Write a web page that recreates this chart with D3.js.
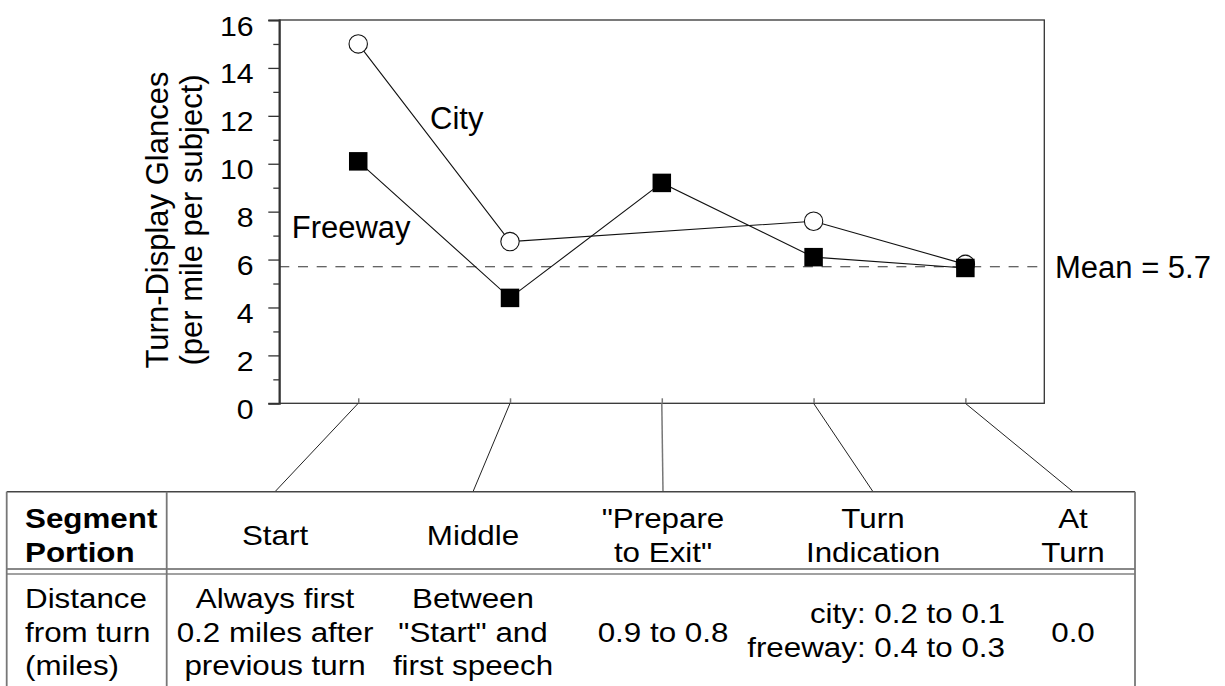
<!DOCTYPE html>
<html>
<head>
<meta charset="utf-8">
<script src="https://cdn.jsdelivr.net/npm/d3@7"></script>
<style>
html,body{margin:0;padding:0;background:#fff;}
svg{display:block;}
text{font-family:"Liberation Sans",Arial,Helvetica,sans-serif;fill:#000;}
</style>
</head>
<body>
<svg id="chart" width="1225" height="686"></svg>
<script>
// ---- data ----
const categories = ["Start", "Middle", "Prepare to Exit", "Turn Indication", "At Turn"];
const cityValues = [15.0, 6.75, null, 7.6, 5.8];
const freewayValues = [10.1, 4.4, 9.2, 6.1, 5.65];
const meanValue = 5.7;
const yTicks = [0, 2, 4, 6, 8, 10, 12, 14, 16];
const yMinorTicks = [1, 3, 5, 7, 9, 11, 13, 15];
const yLabelLines = ["Turn-Display Glances", "(per mile per subject)"];
const rowHeaderLabel = ["Segment", "Portion"];
const rowBodyLabel = ["Distance", "from turn", "(miles)"];
const headerCells = [["Start"], ["Middle"], ["\"Prepare", "to Exit\""], ["Turn", "Indication"], ["At", "Turn"]];
const bodyCells = [
  ["Always first", "0.2 miles after", "previous turn"],
  ["Between", "\"Start\" and", "first speech"],
  ["0.9 to 0.8"],
  ["city: 0.2 to 0.1", "freeway: 0.4 to 0.3"],
  ["0.0"]
];

// ---- layout ----
const plot = {left: 279.3, right: 1044.3, top: 20, bottom: 403.3};
const table = {left: 6.7, sep: 166.7, right: 1135, top: 491.7, dbl1: 569, dbl2: 574, bottom: 686};
const tableColCenters = [275, 473, 663, 873, 1073];
const bodyAnchors = ["middle", "middle", "middle", "end", "middle"];
const bodyAnchorX = [275, 473, 663, 1005, 1073];

const svg = d3.select("#chart");

const x = d3.scalePoint().domain(categories).range([plot.left, plot.right]).padding(0.52);
const y = d3.scaleLinear().domain([0, 16]).range([plot.bottom, plot.top]);

function stext(parent, px, py, str, o) {
  o = o || {};
  return parent.append("text")
    .attr("transform", `translate(${px},${py}) scale(${o.sx || 1},1)`)
    .attr("text-anchor", o.anchor || "start")
    .style("font-size", (o.size || 28) + "px")
    .style("font-weight", o.weight || "normal")
    .text(str);
}

// frame
svg.append("rect")
  .attr("x", plot.left).attr("y", plot.top)
  .attr("width", plot.right - plot.left).attr("height", plot.bottom - plot.top)
  .attr("fill", "none").attr("stroke", "#333").attr("stroke-width", 1.3);

// y axis major
const yAxis = svg.append("g").attr("transform", `translate(${plot.left},0)`)
  .call(d3.axisLeft(y).tickValues(yTicks).tickSize(11).tickPadding(12.9).tickFormat(d3.format("d")));
yAxis.select(".domain").attr("stroke", "#333").attr("stroke-width", 2);
yAxis.selectAll(".tick line").attr("stroke", "#333").attr("stroke-width", 1.3);
yAxis.selectAll(".tick text")
  .attr("dy", "15px")
  .attr("transform", "scale(1.08,1)")
  .style("font-size", "28px")
  .style("font-family", "\"Liberation Sans\",Arial,sans-serif")
  .attr("fill", "#000");

// y axis minor
const yMinor = svg.append("g").attr("transform", `translate(${plot.left},0)`)
  .call(d3.axisLeft(y).tickValues(yMinorTicks).tickSize(6).tickFormat(""));
yMinor.select(".domain").remove();
yMinor.selectAll(".tick line").attr("stroke", "#333").attr("stroke-width", 1.3);

// bottom category ticks (inward)
const xAxis = svg.append("g").attr("transform", `translate(0,${plot.bottom})`)
  .call(d3.axisBottom(x).tickSize(-5).tickFormat(""));
xAxis.select(".domain").remove();
xAxis.selectAll(".tick line").attr("stroke", "#777").attr("stroke-width", 1.5);

// y label
const yl = svg.append("g");
yLabelLines.forEach((t, i) => {
  yl.append("text")
    .attr("transform", `translate(${167.5 + i * 34},220) rotate(-90)`)
    .attr("text-anchor", "middle")
    .style("font-size", "31px")
    .text(t);
});

// mean line
svg.append("line")
  .attr("x1", plot.left).attr("x2", plot.right)
  .attr("y1", y(meanValue)).attr("y2", y(meanValue))
  .attr("stroke", "#333").attr("stroke-width", 1.2)
  .attr("stroke-dasharray", "10,8.7");
stext(svg, 1055, 278.3, "Mean = " + meanValue, {size: 31});

// series lines
const line = d3.line()
  .defined(d => d.v != null)
  .x(d => x(d.c)).y(d => y(d.v));
const cityPts = categories.map((c, i) => ({c, v: cityValues[i]})).filter(d => d.v != null);
const freePts = categories.map((c, i) => ({c, v: freewayValues[i]}));

svg.append("path").datum(cityPts).attr("d", line)
  .attr("fill", "none").attr("stroke", "#111").attr("stroke-width", 1.1);
svg.append("path").datum(freePts).attr("d", line)
  .attr("fill", "none").attr("stroke", "#111").attr("stroke-width", 1.1);

svg.selectAll("circle.city").data(cityPts).enter().append("circle")
  .attr("class", "city")
  .attr("cx", d => x(d.c)).attr("cy", d => y(d.v)).attr("r", 9.2)
  .attr("fill", "#fff").attr("stroke", "#111").attr("stroke-width", 1.1);

const sq = 18.5;
svg.selectAll("rect.free").data(freePts).enter().append("rect")
  .attr("class", "free")
  .attr("x", d => x(d.c) - sq / 2).attr("y", d => y(d.v) - sq / 2)
  .attr("width", sq).attr("height", sq).attr("fill", "#000");

// series labels
stext(svg, 430, 129.3, "City", {size: 31});
stext(svg, 291.7, 237.7, "Freeway", {size: 31});

// connectors from category ticks to table columns
categories.forEach((c, i) => {
  svg.append("line")
    .attr("x1", x(c)).attr("y1", plot.bottom)
    .attr("x2", tableColCenters[i]).attr("y2", table.top)
    .attr("stroke", i === 2 ? "#777" : "#222").attr("stroke-width", i === 2 ? 1.5 : 1);
});

// table lines
const tl = svg.append("g");
tl.append("line").attr("x1", table.left).attr("x2", table.right).attr("y1", table.top).attr("y2", table.top)
  .attr("stroke", "#444").attr("stroke-width", 1.5);
tl.append("line").attr("x1", table.left).attr("x2", table.right).attr("y1", table.dbl1).attr("y2", table.dbl1)
  .attr("stroke", "#888").attr("stroke-width", 2);
tl.append("line").attr("x1", table.left).attr("x2", table.right).attr("y1", table.dbl2).attr("y2", table.dbl2)
  .attr("stroke", "#444").attr("stroke-width", 1.2);
[table.left, table.sep, table.right].forEach(xx => {
  tl.append("line").attr("x1", xx).attr("x2", xx).attr("y1", table.top).attr("y2", table.bottom)
    .attr("stroke", "#777").attr("stroke-width", 1.8);
});

// table text
const TS = 27.5, SX = 1.14, LH = 33.5;
const headCenter = 544.8, bodyCenter = 641.7;
function block(lines, cx, center, anchor, weight) {
  const n = lines.length;
  lines.forEach((t, k) => {
    const by = center + (k - (n - 1) / 2) * LH;
    stext(svg, cx, by, t, {size: TS, sx: SX, anchor: anchor, weight: weight});
  });
}
block(rowHeaderLabel, 25, headCenter, "start", "bold");
block(rowBodyLabel, 25, bodyCenter, "start", "normal");
headerCells.forEach((lines, i) => block(lines, tableColCenters[i], headCenter, "middle", "normal"));
bodyCells.forEach((lines, i) => block(lines, bodyAnchorX[i], i === 3 ? 640 : bodyCenter, bodyAnchors[i], "normal"));
</script>
</body>
</html>
